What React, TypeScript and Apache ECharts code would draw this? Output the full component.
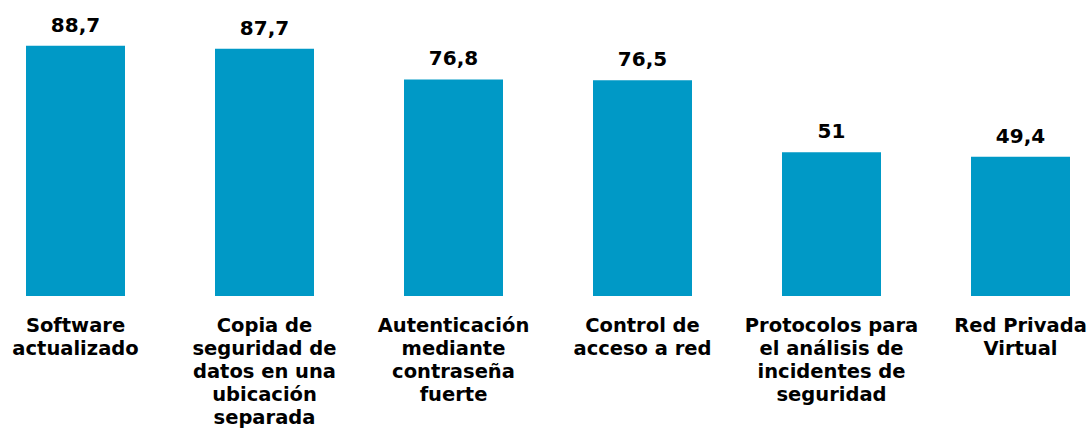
import React, { useEffect, useRef } from "react";
import * as echarts from "echarts";

const categories: string[] = [
  "Software\nactualizado",
  "Copia de\nseguridad de\ndatos en una\nubicación\nseparada",
  "Autenticación\nmediante\ncontraseña\nfuerte",
  "Control de\nacceso a red",
  "Protocolos para\nel análisis de\nincidentes de\nseguridad",
  "Red Privada\nVirtual",
];
const values: number[] = [88.7, 87.7, 76.8, 76.5, 51, 49.4];

export default function App() {
  const ref = useRef<HTMLDivElement>(null);
  useEffect(() => {
    document.body.style.margin = "0";
    document.body.style.overflow = "hidden";
    const chart = echarts.init(ref.current!, null, { renderer: "svg" });
    chart.setOption({
      animation: false,
      grid: { left: 0, right: 0, top: 14, bottom: 134 },
      xAxis: {
        type: "category",
        data: categories,
        axisLine: { show: false },
        axisTick: { show: false },
        axisLabel: {
          interval: 0,
          margin: 18,
          color: "#000",
          fontFamily: "DejaVu Sans",
          fontWeight: "bold",
          fontSize: 19.5,
          lineHeight: 23,
        },
      },
      yAxis: { type: "value", min: 0, max: 100, show: false, splitLine: { show: false } },
      series: [
        {
          type: "bar",
          data: values,
          barWidth: 99,
          itemStyle: { color: "#0099c6" },
          label: {
            show: true,
            position: "top",
            distance: 11,
            color: "#000",
            fontFamily: "DejaVu Sans",
            fontWeight: "bold",
            fontSize: 20,
            formatter: (p: any) => String(p.value).replace(".", ","),
          },
        },
      ],
    });
    return () => chart.dispose();
  }, []);
  return (
    <div style={{ width: 1088, height: 430, overflow: "hidden" }}>
      <div ref={ref} style={{ width: 1134, height: 430, marginLeft: -19 }} />
    </div>
  );
}
